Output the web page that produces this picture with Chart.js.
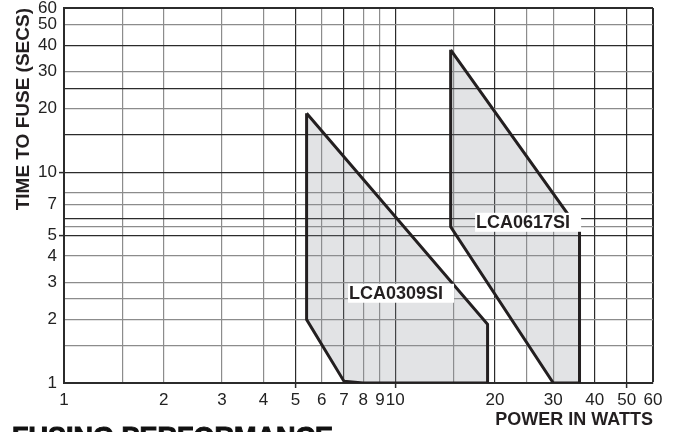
<!DOCTYPE html>
<html>
<head>
<meta charset="utf-8">
<script src="https://cdn.jsdelivr.net/npm/chart.js@4.4.1/dist/chart.umd.min.js"></script>
<style>
html, body { margin: 0; padding: 0; background: #fff; overflow: hidden; }
</style>
</head>
<body>
<canvas id="fuse" width="677" height="432"></canvas>
<script>
// grid lines and labels on the two log axes
const powerTicks = [1, 1.5, 2, 3, 4, 5, 6, 7, 8, 9, 10, 15, 20, 25, 30, 40, 50, 60];
const powerLabels = [1, 2, 3, 4, 5, 6, 7, 8, 9, 10, 20, 30, 40, 50, 60];
const timeTicks = [1, 1.5, 2, 2.5, 3, 4, 5, 5.5, 6, 7, 8, 10, 15, 20, 25, 30, 40, 50, 60];
const timeLabels = [1, 2, 3, 4, 5, 7, 10, 20, 30, 40, 50, 60];

// corners of each fusing zone (watts / seconds), walked round the shape
const lca0309Watts = [5.4, 5.4, 7, 8, 19, 19, 5.4];
const lca0309Secs  = [19, 2, 1.02, 1, 1, 1.9, 19];
const lca0617Watts = [14.7, 14.7, 30, 36, 36, 34, 14.7];
const lca0617Secs  = [38, 5.5, 1, 1, 5.6, 6, 38];

// which grid lines are printed darker, and which get a tick mark outside the frame
const darkPower = [1, 5, 7, 10, 20, 40, 50, 60];
const darkTime = [1, 5, 6, 10, 15, 25, 40, 60];
const markPower = [5, 10, 50];
const markTime = [5, 10];

const INK = '#231f20';
const FONT = '"Liberation Sans", Arial, Helvetica, sans-serif';

function pts(xs, ys) {
  return xs.map((x, i) => ({x: x, y: ys[i]}));
}

function gridFor(dark, marks) {
  return {
    color: c => (c.tick && dark.includes(c.tick.value)) ? '#2b2b2b' : '#8c8c8c',
    lineWidth: c => (c.tick && c.tick.value === 60) ? 2 : 1.2,
    tickLength: 5,
    tickWidth: 1.5,
    tickColor: c => (c.tick && marks.includes(c.tick.value)) ? '#2b2b2b' : 'rgba(0,0,0,0)'
  };
}

// white boxed names of the two parts
const zoneNames = [
  {text: 'LCA0309SI', x: 7.2, y: 2.65, anchor: 'left'},
  {text: 'LCA0617SI', x: 36.4, y: 5.75, anchor: 'right'}
];

const namePlugin = {
  id: 'zoneNames',
  afterDatasetsDraw(chart) {
    const ctx = chart.ctx;
    const xs = chart.scales.x, ys = chart.scales.y;
    ctx.save();
    ctx.font = 'bold 18px ' + FONT;
    ctx.textBaseline = 'middle';
    zoneNames.forEach(n => {
      const w = ctx.measureText(n.text).width;
      const px = xs.getPixelForValue(n.x);
      const py = ys.getPixelForValue(n.y);
      const boxW = w + 12;
      const left = n.anchor === 'left' ? px : px - boxW;
      ctx.fillStyle = '#fff';
      ctx.fillRect(left, py - 10, boxW, 19);
      ctx.fillStyle = INK;
      ctx.fillText(n.text, left + 1, py);
    });
    ctx.restore();
  },
  afterDraw(chart) {
    const ctx = chart.ctx;
    ctx.save();
    ctx.font = 'bold 27px ' + FONT;
    ctx.fillStyle = '#111';
    ctx.strokeStyle = '#111';
    ctx.lineWidth = 1;
    ctx.textBaseline = 'alphabetic';
    ctx.fillText('FUSING PERFORMANCE', 12, 446);
    ctx.strokeText('FUSING PERFORMANCE', 12, 446);
    ctx.restore();
  }
};

const zoneStyle = {
  showLine: true,
  fill: 'shape',
  backgroundColor: 'rgba(140,144,152,0.25)',
  borderColor: INK,
  borderWidth: 3,
  borderJoinStyle: 'miter',
  pointRadius: 0,
  tension: 0
};

new Chart(document.getElementById('fuse'), {
  type: 'scatter',
  data: {
    datasets: [
      Object.assign({label: 'LCA0309SI', data: pts(lca0309Watts, lca0309Secs)}, zoneStyle),
      Object.assign({label: 'LCA0617SI', data: pts(lca0617Watts, lca0617Secs)}, zoneStyle)
    ]
  },
  options: {
    responsive: false,
    animation: false,
    devicePixelRatio: 1,
    events: [],
    layout: {padding: {top: 8, right: 24, left: 0, bottom: 0}},
    plugins: {legend: {display: false}, tooltip: {enabled: false}},
    scales: {
      x: {
        type: 'logarithmic',
        min: 1,
        max: 60,
        afterBuildTicks: s => { s.ticks = powerTicks.map(v => ({value: v})); },
        afterFit: s => { s.height = 49; s.paddingLeft = 0; s.paddingRight = 0; },
        ticks: {
          autoSkip: false,
          maxRotation: 0,
          padding: 2,
          color: '#222',
          font: {family: FONT, size: 17},
          callback: v => powerLabels.includes(v) ? String(v) : ''
        },
        grid: gridFor(darkPower, markPower),
        border: {color: '#2b2b2b', width: 2},
        title: {
          display: true,
          text: 'POWER IN WATTS',
          align: 'end',
          color: INK,
          padding: {top: 0, bottom: 1},
          font: {family: FONT, size: 18, weight: 'bold'}
        }
      },
      y: {
        type: 'logarithmic',
        min: 1,
        max: 60,
        afterBuildTicks: s => { s.ticks = timeTicks.map(v => ({value: v})); },
        afterFit: s => { s.width = 64; s.paddingTop = 0; s.paddingBottom = 0; },
        ticks: {
          autoSkip: false,
          padding: 2,
          color: '#222',
          font: {family: FONT, size: 17},
          callback: v => timeLabels.includes(v) ? String(v) : ''
        },
        grid: gridFor(darkTime, markTime),
        border: {color: '#2b2b2b', width: 2},
        title: {
          display: true,
          text: 'TIME TO FUSE (SECS)',
          align: 'end',
          color: INK,
          padding: {top: 12, bottom: 0},
          font: {family: FONT, size: 19, weight: 'bold'}
        }
      }
    }
  },
  plugins: [namePlugin]
});
</script>
</body>
</html>
